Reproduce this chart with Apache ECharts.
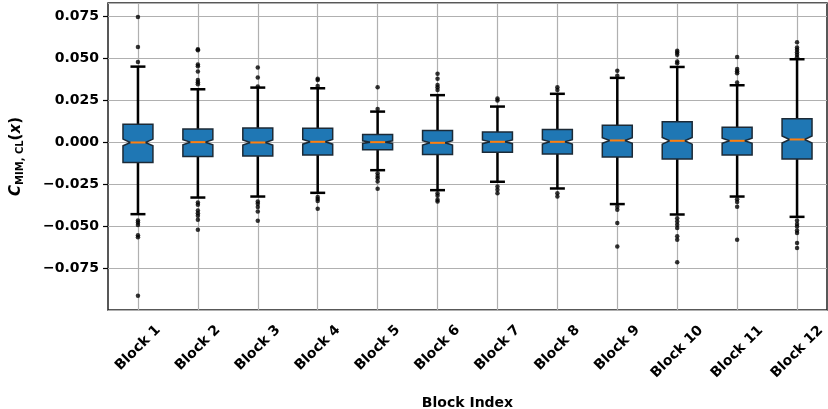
<!DOCTYPE html>
<html>
<head>
<meta charset="utf-8">
<script src="https://cdn.jsdelivr.net/npm/echarts@6/dist/echarts.min.js"></script>
<style>
  html, body { margin: 0; padding: 0; background: #fff; }
  #chart { width: 828px; height: 409px; }
</style>
</head>
<body>
<div id="chart"></div>
<script>
// Block labels
const categories = ['Block 1', 'Block 2', 'Block 3', 'Block 4', 'Block 5', 'Block 6',
                    'Block 7', 'Block 8', 'Block 9', 'Block 10', 'Block 11', 'Block 12'];

// Box statistics per block
const lowerWhisker = [-0.0429, -0.0330, -0.0324, -0.0302, -0.0167, -0.0286, -0.0236, -0.0276, -0.0369, -0.0431, -0.0324, -0.0445];
const q1           = [-0.0121, -0.0086, -0.0082, -0.0076, -0.0046, -0.0074, -0.0060, -0.0070, -0.0088, -0.0101, -0.0077, -0.0101];
const medians      = [-0.0002,  0.0000, -0.0002,  0.0002,  0.0000, -0.0004,  0.0002,  0.0002,  0.0010,  0.0008,  0.0008,  0.0016];
const q3           = [ 0.0107,  0.0079,  0.0085,  0.0083,  0.0045,  0.0069,  0.0060,  0.0075,  0.0101,  0.0121,  0.0089,  0.0139];
const upperWhisker = [ 0.0450,  0.0315,  0.0325,  0.0321,  0.0182,  0.0280,  0.0212,  0.0288,  0.0383,  0.0448,  0.0339,  0.0494];
// Half-height of the median confidence notch
const notchHalf    = [ 0.0020,  0.0015,  0.0015,  0.0014,  0.0008,  0.0013,  0.0011,  0.0013,  0.0017,  0.0020,  0.0015,  0.0021];

// Outlying points per block
const outliers = [
  [0.0745, 0.0567, 0.0478, -0.0467, -0.0478, -0.0494, -0.0554, -0.0566, -0.0915],
  [0.0554, 0.0547, 0.0462, 0.0452, 0.0421, 0.0371, 0.0357, 0.0345, -0.0360, -0.0373, -0.0407, -0.0423, -0.0438, -0.0462, -0.0522],
  [0.0444, 0.0385, 0.0331, -0.0354, -0.0367, -0.0387, -0.0413, -0.0469],
  [0.0377, 0.0370, 0.0335, -0.0327, -0.0339, -0.0351, -0.0397],
  [0.0327, 0.0198, -0.0185, -0.0201, -0.0215, -0.0235, -0.0278],
  [0.0407, 0.0377, 0.0341, 0.0327, 0.0311, -0.0304, -0.0320, -0.0343, -0.0353],
  [0.0260, 0.0248, -0.0264, -0.0284, -0.0304],
  [0.0327, 0.0311, -0.0304, -0.0324],
  [0.0426, 0.0395, -0.0385, -0.0403, -0.0482, -0.0621],
  [0.0545, 0.0534, 0.0520, 0.0480, 0.0470, -0.0453, -0.0473, -0.0492, -0.0512, -0.0561, -0.0582, -0.0716],
  [0.0508, 0.0436, 0.0422, 0.0410, 0.0355, -0.0340, -0.0356, -0.0385, -0.0582],
  [0.0595, 0.0564, 0.0550, 0.0536, 0.0520, 0.0506, -0.0467, -0.0487, -0.0503, -0.0526, -0.0542, -0.0601, -0.0631]
];

const FONT = 'DejaVu Sans';

const boxData = categories.map((c, i) => [
  i, lowerWhisker[i], q1[i], medians[i] - notchHalf[i], medians[i],
  medians[i] + notchHalf[i], q3[i], upperWhisker[i]
]);
const outlierData = [];
outliers.forEach((arr, i) => arr.forEach(v => outlierData.push([i, v])));

function renderBox(params, api) {
  const x = api.value(0);
  const lo = api.value(1), bq1 = api.value(2), nlo = api.value(3), med = api.value(4),
        nhi = api.value(5), bq3 = api.value(6), hi = api.value(7);
  const band = api.size([1, 0])[0];
  const w = band * 0.5;
  const cx = api.coord([x, med])[0];
  const Y = v => api.coord([x, v])[1];
  const L = cx - w / 2, R = cx + w / 2, cl = cx - w / 4, cr = cx + w / 4;
  const black = '#000';
  return {
    type: 'group',
    children: [
      { type: 'line', shape: { x1: cx, y1: Y(bq1), x2: cx, y2: Y(lo) }, style: { stroke: black, lineWidth: 2.5 } },
      { type: 'line', shape: { x1: cx, y1: Y(bq3), x2: cx, y2: Y(hi) }, style: { stroke: black, lineWidth: 2.5 } },
      {
        type: 'polygon',
        shape: { points: [
          [L, Y(bq1)], [R, Y(bq1)], [R, Y(nlo)], [cr, Y(med)], [R, Y(nhi)], [R, Y(bq3)],
          [L, Y(bq3)], [L, Y(nhi)], [cl, Y(med)], [L, Y(nlo)]
        ] },
        style: { fill: '#1f77b4', stroke: '#1c2a36', lineWidth: 1.5 }
      },
      { type: 'line', shape: { x1: cl, y1: Y(lo), x2: cr, y2: Y(lo) }, style: { stroke: black, lineWidth: 2.5 } },
      { type: 'line', shape: { x1: cl, y1: Y(hi), x2: cr, y2: Y(hi) }, style: { stroke: black, lineWidth: 2.5 } },
      { type: 'line', shape: { x1: cl, y1: Y(med), x2: cr, y2: Y(med) }, style: { stroke: '#ff7f0e', lineWidth: 2 } }
    ]
  };
}

const tickFont = { fontFamily: FONT, fontWeight: 'bold', fontSize: 14, color: '#000' };

const chart = echarts.init(document.getElementById('chart'), null, { renderer: 'canvas' });
chart.setOption({
  animation: false,
  backgroundColor: '#fff',
  grid: {
    left: 108, right: 1, top: 3, bottom: 99,
    outerBoundsMode: 'none',
    show: true, borderColor: '#222', borderWidth: 1.5, backgroundColor: 'transparent'
  },
  xAxis: {
    type: 'category',
    data: categories,
    boundaryGap: true,
    name: 'Block Index',
    nameLocation: 'middle',
    nameGap: 86,
    nameTextStyle: { fontFamily: FONT, fontWeight: 'bold', fontSize: 14, color: '#000' },
    axisLine: { show: false },
    axisTick: { show: true, alignWithLabel: true, length: 5, lineStyle: { color: '#000', width: 1.2 } },
    axisLabel: {
      rotate: 45, align: 'center', verticalAlign: 'middle', margin: 38, interval: 0,
      ...tickFont,
      // longer labels keep their top edge level, so their centre sits lower
      formatter: v => (v.length > 7 ? '{b|' + v + '}' : '{a|' + v + '}'),
      rich: {
        a: { ...tickFont },
        b: { ...tickFont, padding: [5.6, 5.6, 0, 0] }
      }
    },
    splitLine: { show: true, alignWithLabel: true, lineStyle: { color: '#b0b0b0', width: 1.2 } }
  },
  yAxis: {
    type: 'value',
    min: -0.1, max: 0.0829, interval: 0.025,
    name: '{c|C}{s|MIM, CL}{p|(}{x|x}{p|)}',
    nameLocation: 'middle',
    nameRotate: 90,
    nameGap: 82,
    nameTextStyle: {
      fontFamily: FONT, color: '#000',
      rich: {
        c: { fontFamily: FONT, fontWeight: 'bold', fontStyle: 'italic', fontSize: 15, lineHeight: 20, verticalAlign: 'middle' },
        s: { fontFamily: FONT, fontWeight: 'bold', fontSize: 10, lineHeight: 20, verticalAlign: 'bottom', padding: [0, 0, 1, 0] },
        p: { fontFamily: FONT, fontWeight: 'bold', fontSize: 15, lineHeight: 20, verticalAlign: 'middle' },
        x: { fontFamily: FONT, fontWeight: 'bold', fontStyle: 'italic', fontSize: 15, lineHeight: 20, verticalAlign: 'middle' }
      }
    },
    axisLine: { show: false },
    axisTick: { show: true, length: 5, lineStyle: { color: '#000', width: 1.2 } },
    axisLabel: {
      showMinLabel: false, showMaxLabel: false, margin: 9,
      ...tickFont,
      formatter: v => v.toFixed(3).replace('-', '\u2212')
    },
    splitLine: { show: true, lineStyle: { color: '#b0b0b0', width: 1.2 } }
  },
  series: [
    {
      type: 'custom',
      renderItem: renderBox,
      encode: { x: 0, y: [1, 2, 3, 4, 5, 6, 7] },
      data: boxData,
      clip: false,
      z: 2
    },
    {
      type: 'scatter',
      data: outlierData,
      symbol: 'circle',
      symbolSize: 4.5,
      itemStyle: { color: '#000' },
      z: 3
    }
  ]
});
</script>
</body>
</html>
